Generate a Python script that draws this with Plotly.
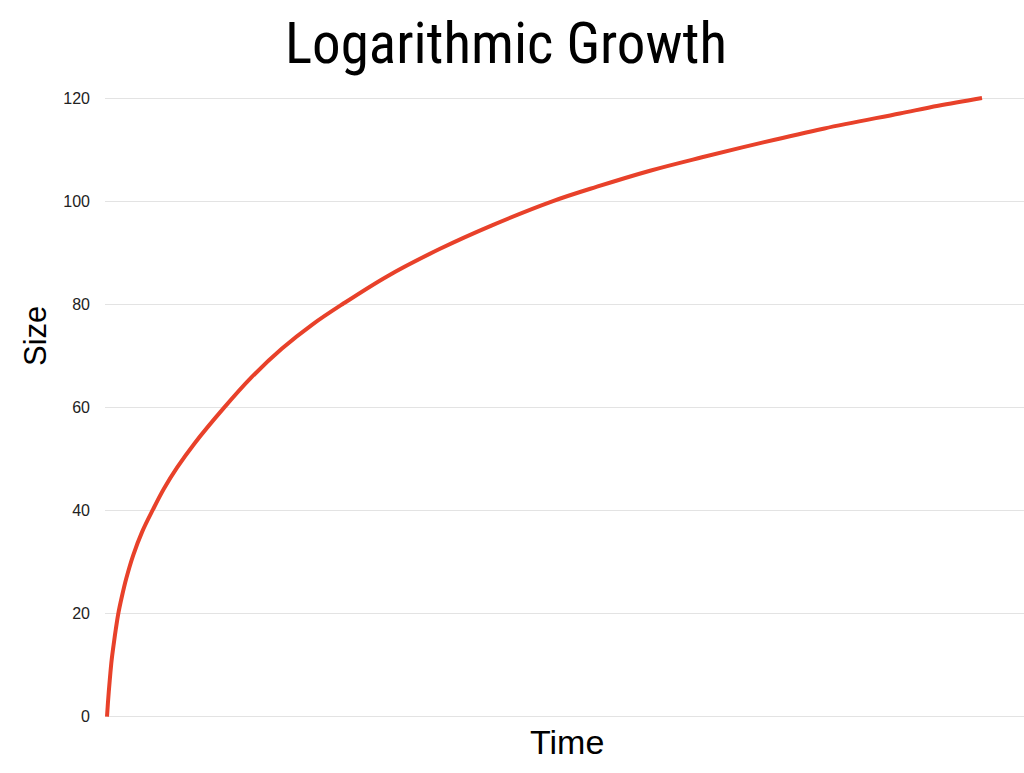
import plotly.graph_objects as go

# Data
time_vals = [0, 0.05, 0.1, 0.2, 0.35, 0.53, 0.8, 1.0, 1.29, 1.7, 2.2, 2.99, 4.0, 5.26, 6.5, 8.0,
             10.0, 13.26, 16.5, 20.0, 23.5, 26.9, 32.0, 38.0, 44.0, 50.97, 56.0, 62.06, 68.0,
             75.0, 82.0, 90.6, 95.0, 100.0]
size_vals = [0, 1.3, 2.6, 4.8, 7.8, 11.0, 14.5, 16.9, 20.0, 23.3, 26.8, 31.3, 35.8, 40.2, 44.2, 48.3,
             53.0, 59.7, 65.8, 71.4, 76.1, 80.0, 85.4, 90.7, 95.3, 100.0, 102.8, 105.9, 108.5,
             111.4, 114.1, 117.0, 118.5, 120.0]
y_ticks = [0, 20, 40, 60, 80, 100, 120]

title_text = "Logarithmic Growth"
x_title = "Time"
y_title = "Size"

fig = go.Figure()
fig.add_trace(go.Scatter(
    x=time_vals, y=size_vals, mode="lines",
    line=dict(color="#E8412A", width=4, shape="spline", smoothing=1.0),
    hoverinfo="skip", showlegend=False,
))

fig.update_layout(
    width=1024, height=773,
    margin=dict(l=105, r=0, t=88, b=46),
    paper_bgcolor="white", plot_bgcolor="white",
    xaxis=dict(range=[-0.23, 104.8], showticklabels=False, showgrid=False,
               zeroline=False, showline=False, ticks=""),
    yaxis=dict(range=[-2.0, 121.94], tickvals=y_ticks, ticks="",
               showgrid=True, gridcolor="#E3E3E3", gridwidth=1,
               zeroline=False, showline=False, ticklabelstandoff=14,
               tickfont=dict(family="Liberation Sans, Arial, sans-serif", size=16, color="#222222")),
    annotations=[
        dict(text=title_text, xref="paper", yref="paper", x=(506 - 105) / 919, y=(773 - 44 - 46) / 639,
             xanchor="center", yanchor="middle", showarrow=False,
             font=dict(family="Liberation Sans Narrow, Arial Narrow, Roboto Condensed, Liberation Sans, sans-serif",
                       size=57, color="black")),
        dict(text=x_title, xref="paper", yref="paper", x=(567 - 105) / 919, y=(773 - 742 - 46) / 639,
             xanchor="center", yanchor="middle", showarrow=False,
             font=dict(family="Liberation Sans, Arial, sans-serif", size=34, color="black")),
        dict(text=y_title, xref="paper", yref="paper", x=(35 - 105) / 919, y=(773 - 336 - 46) / 639,
             xanchor="center", yanchor="middle", showarrow=False, textangle=-90,
             font=dict(family="Liberation Sans, Arial, sans-serif", size=31, color="black")),
    ],
)

fig.write_html("out.html", config={"displayModeBar": False},
               post_script="document.body.style.margin='0';document.body.style.overflow='hidden';")
